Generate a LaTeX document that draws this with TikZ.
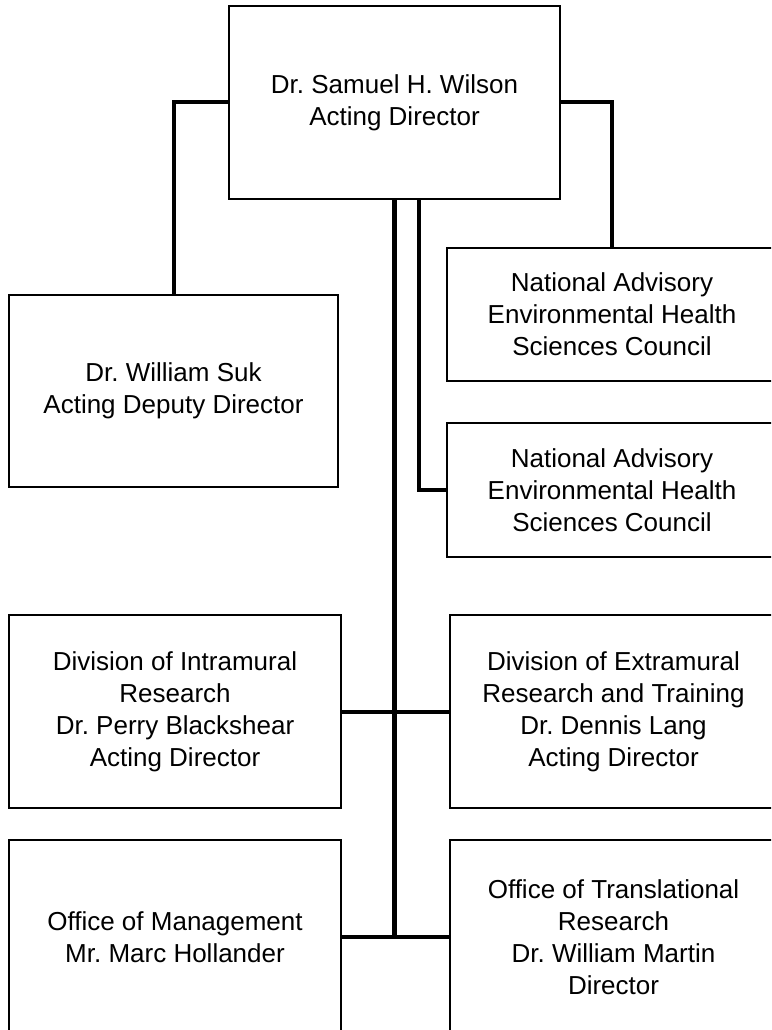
\documentclass[tikz,border=0pt]{standalone}
\usepackage{fontspec}
\setmainfont{Liberation Sans}
\usepackage{amsmath}
\frenchspacing

\begin{document}
\begin{tikzpicture}[x=1pt,y=-1pt,
    link/.style={line width=4pt},
    trunk/.style={line width=5.5pt}]

      \clip (0,0) rectangle (771,1030);

      \begin{scope}[every node/.style={rectangle,draw,line width=1.3pt,inner sep=0pt,
          align=center,font=\fontsize{26}{32}\selectfont}]
        \node[minimum width=331pt,minimum height=193pt] (wilson) at (394.5,102.5)
          {Dr. Samuel H. Wilson\\Acting Director};
        \node[minimum width=329pt,minimum height=192pt] (suk)    at (173.5,391)
          {Dr. William Suk\\Acting Deputy Director};
        \node[minimum width=330pt,minimum height=133pt] (nacA)   at (612,314.5)
          {National Advisory\\Environmental Health\\Sciences Council};
        \node[minimum width=330pt,minimum height=134pt] (nacB)   at (612,490)
          {National Advisory\\Environmental Health\\Sciences Council};
        \node[minimum width=332pt,minimum height=193pt] (dir)    at (175,711.5)
          {Division of Intramural\\Research\\Dr. Perry Blackshear\\Acting Director};
        \node[minimum width=327pt,minimum height=193pt] (dert)   at (613.5,711.5)
          {Division of Extramural\\Research and Training\\Dr. Dennis Lang\\Acting Director};
        \node[minimum width=332pt,minimum height=194pt] (om)     at (175,937)
          {Office of Management\\Mr. Marc Hollander};
        \node[minimum width=327pt,minimum height=194pt] (otr)    at (613.5,937)
          {Office of Translational\\Research\\Dr. William Martin\\Director};
      \end{scope}

      % lines to the director
      \draw[link] (wilson.west) -| (suk.north);
      \draw[link] (wilson.east) -| (nacA.north);
      \draw[link] ([xshift=24.5pt]wilson.south) |- (nacB.west);
      \draw[trunk] (wilson.south) -- (wilson.south |- om.east);

      % divisions and offices
      \draw[link] (dir.east) -- (dert.west);
      \draw[link] (om.east) -- (otr.west);

    \end{tikzpicture}
\end{document}
